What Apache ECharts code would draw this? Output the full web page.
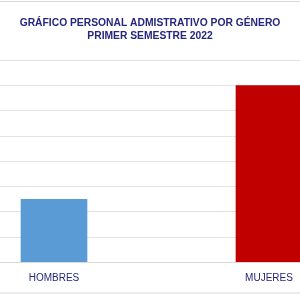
<!DOCTYPE html>
<html><head><meta charset="utf-8">
<script src="https://cdn.jsdelivr.net/npm/echarts@6/dist/echarts.min.js"></script>
<style>html,body{margin:0;padding:0;background:#fff}#c{width:300px;height:300px}</style>
</head><body><div id="c"></div>
<script>
const titleLines = ['GRÁFICO PERSONAL ADMISTRATIVO POR GÉNERO', 'PRIMER SEMESTRE 2022'];
const categories = ['HOMBRES', 'MUJERES'];
const values = [5, 14];
const barColors = ['#5B9BD5', '#C00000'];
const yMin = 0, yMax = 16, yInterval = 2;

const chart = echarts.init(document.getElementById('c'), null, {renderer: 'canvas'});
chart.setOption({
  animation: false,
  backgroundColor: '#fff',
  graphic: [{
    type: 'rect', shape: {x: -5, y: 1.5, width: 310, height: 291.5},
    style: {fill: 'none', stroke: '#d9d9d9', lineWidth: 1}, silent: true
  }],
  title: {
    text: titleLines.join('\n'),
    left: 'center', top: 12,
    textStyle: {fontFamily: 'Liberation Sans', fontWeight: 'bold', fontSize: 10.3, color: '#262680', lineHeight: 13}
  },
  grid: {left: -53.5, right: -76.5, top: 60, bottom: 38, containLabel: false, outerBoundsMode: 'none'},
  xAxis: {
    type: 'category', data: categories,
    axisLine: {show: true, lineStyle: {color: '#d9d9d9'}},
    axisTick: {show: false},
    axisLabel: {color: '#262680', fontFamily: 'Liberation Sans', fontSize: 10, margin: 11}
  },
  yAxis: {
    type: 'value', min: yMin, max: yMax, interval: yInterval,
    axisLabel: {show: false}, axisLine: {show: false}, axisTick: {show: false},
    splitLine: {lineStyle: {color: '#e3e3e3', width: 1}}
  },
  series: [{
    type: 'bar', barWidth: '31%',
    data: values.map((v, i) => ({value: v, itemStyle: {color: barColors[i]}}))
  }]
});
</script></body></html>
